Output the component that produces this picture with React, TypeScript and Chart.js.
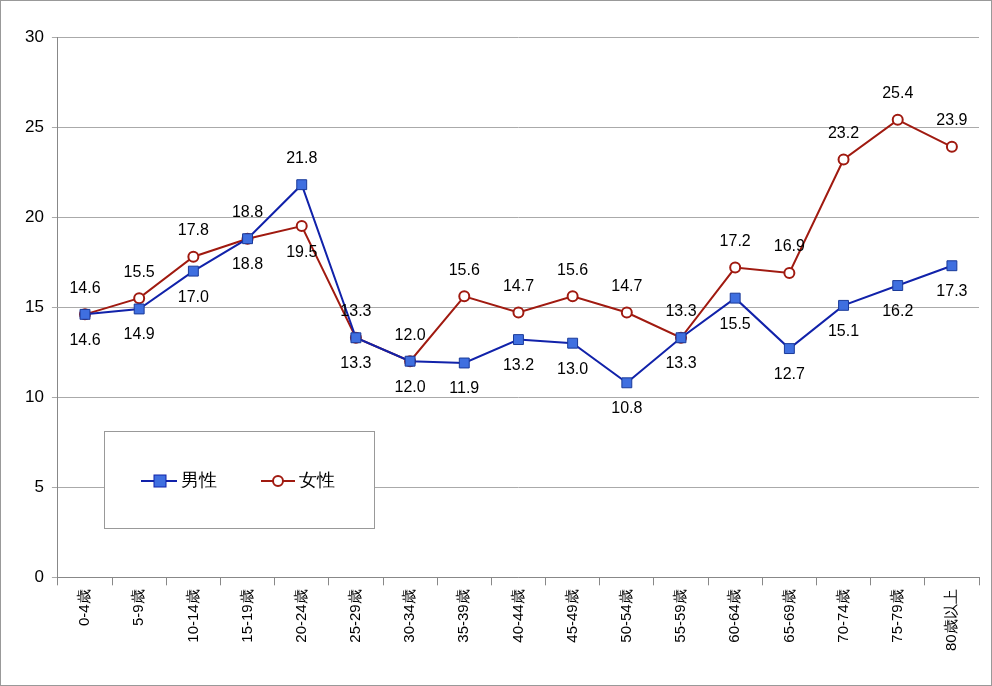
import React, { useRef, useEffect } from 'react';
import { Chart, registerables } from 'chart.js';

Chart.register(...registerables);

const categories = ['0-4歳', '5-9歳', '10-14歳', '15-19歳', '20-24歳', '25-29歳', '30-34歳', '35-39歳', '40-44歳', '45-49歳', '50-54歳', '55-59歳', '60-64歳', '65-69歳', '70-74歳', '75-79歳', '80歳以上'];
const male = [14.6, 14.9, 17.0, 18.8, 21.8, 13.3, 12.0, 11.9, 13.2, 13.0, 10.8, 13.3, 15.5, 12.7, 15.1, 16.2, 17.3];
const female = [14.6, 15.5, 17.8, 18.8, 19.5, 13.3, 12.0, 15.6, 14.7, 15.6, 14.7, 13.3, 17.2, 16.9, 23.2, 25.4, 23.9];
// label placement: true = above the point
const maleAbove = male.map((_, i) => i === 4);
const femaleAbove = female.map((_, i) => i !== 4);

const FONT = '"Liberation Sans", Arial, sans-serif';

const labelPlugin = {
  id: 'valueLabels',
  afterDatasetsDraw(chart: any) {
    const ctx = chart.ctx;
    ctx.save();
    ctx.font = `16px ${FONT}`;
    ctx.fillStyle = '#000';
    ctx.textAlign = 'center';
    ctx.textBaseline = 'middle';
    chart.data.datasets.forEach((ds: any, di: number) => {
      const meta = chart.getDatasetMeta(di);
      const above = di === 0 ? maleAbove : femaleAbove;
      meta.data.forEach((pt: any, i: number) => {
        const dy = above[i] ? -26 : 26;
        ctx.fillText(ds.data[i].toFixed(1), pt.x, pt.y + dy);
      });
    });
    ctx.restore();
  },
};

const legendPlugin = {
  id: 'boxLegend',
  afterDraw(chart: any) {
    const ctx = chart.ctx;
    ctx.save();
    ctx.fillStyle = '#fff';
    ctx.strokeStyle = '#999';
    ctx.lineWidth = 1;
    ctx.fillRect(103.5, 430.5, 270, 97);
    ctx.strokeRect(103.5, 430.5, 270, 97);
    const y = 480;
    ctx.font = `18px ${FONT}`;
    ctx.textBaseline = 'middle';
    // male
    ctx.strokeStyle = '#1122aa';
    ctx.lineWidth = 2;
    ctx.beginPath(); ctx.moveTo(140, y); ctx.lineTo(176, y); ctx.stroke();
    ctx.fillStyle = '#3f6fe0';
    ctx.lineWidth = 1;
    ctx.fillRect(153, y - 6, 12, 12);
    ctx.strokeRect(153, y - 6, 12, 12);
    ctx.fillStyle = '#000';
    ctx.fillText('男性', 180, y);
    // female
    ctx.strokeStyle = '#a01a10';
    ctx.lineWidth = 2;
    ctx.beginPath(); ctx.moveTo(260, y); ctx.lineTo(294, y); ctx.stroke();
    ctx.fillStyle = '#fff';
    ctx.beginPath(); ctx.arc(277, y, 5, 0, Math.PI * 2); ctx.fill(); ctx.stroke();
    ctx.fillStyle = '#000';
    ctx.fillText('女性', 298, y);
    ctx.restore();
  },
};

const App: React.FC = () => {
  const chartRef = useRef<HTMLCanvasElement>(null);
  const chartInstance = useRef<Chart | null>(null);

  useEffect(() => {
    document.body.style.margin = '0';
    if (!chartRef.current) return;
    if (chartInstance.current) chartInstance.current.destroy();
    const ctx = chartRef.current.getContext('2d');
    if (!ctx) return;

    chartInstance.current = new Chart(ctx, {
      type: 'line',
      data: {
        labels: categories,
        datasets: [
          {
            label: '男性',
            data: male,
            borderColor: '#1122aa',
            borderWidth: 2,
            backgroundColor: '#3f6fe0',
            pointStyle: 'rect',
            pointRadius: 7,
            pointBorderColor: '#1a3a99',
            pointBorderWidth: 1,
            tension: 0,
          },
          {
            label: '女性',
            data: female,
            borderColor: '#a01a10',
            borderWidth: 2,
            backgroundColor: '#fff',
            pointStyle: 'circle',
            pointRadius: 5,
            pointBorderColor: '#a01a10',
            pointBorderWidth: 2,
            tension: 0,
          },
        ],
      },
      options: {
        animation: false,
        responsive: true,
        maintainAspectRatio: false,
        layout: { padding: { top: 36, right: 12, left: 16, bottom: 30 } },
        plugins: { legend: { display: false }, tooltip: { enabled: false } },
        scales: {
          x: {
            offset: true,
            grid: { display: true, drawOnChartArea: false, offset: true, color: '#888', tickLength: 8 },
            border: { color: '#888' },
            ticks: { color: '#000', font: { size: 15, family: FONT }, minRotation: 90, maxRotation: 90, padding: 4 },
          },
          y: {
            min: 0,
            max: 30,
            ticks: { stepSize: 5, color: '#000', font: { size: 17, family: FONT }, padding: 8 },
            grid: { color: '#aaa', tickLength: 6 },
            border: { color: '#888' },
          },
        },
      },
      plugins: [labelPlugin, legendPlugin],
    });

    return () => {
      if (chartInstance.current) {
        chartInstance.current.destroy();
        chartInstance.current = null;
      }
    };
  }, []);

  return (
    <div style={{ width: 992, height: 686, boxSizing: 'border-box', border: '1px solid #999', background: '#fff' }}>
      <canvas ref={chartRef} />
    </div>
  );
};

export default App;
